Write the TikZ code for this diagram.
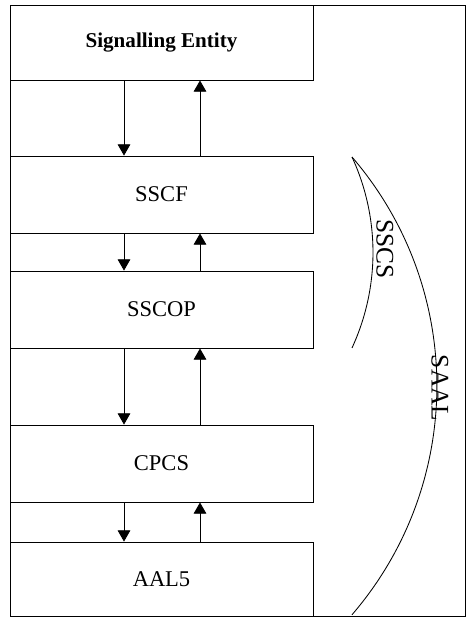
\documentclass[tikz,border=0pt]{standalone}
\usepackage{fontspec}
\setmainfont{Liberation Serif}
\usetikzlibrary{arrows.meta}
\usetikzlibrary{positioning}

\begin{document}
\begin{tikzpicture}[x=0.025cm, y=-0.025cm, line width=0.6pt,
    layer/.style={draw, rectangle, inner sep=0pt, minimum width=7.575cm,
      minimum height=1.925cm, font=\fontsize{16}{19}\selectfont},
    flow/.style={-{Triangle[width=9pt,length=8pt]}},
    lbl/.style={rotate=-90, inner sep=0pt, font=\fontsize{18}{21}\selectfont}]

    \useasboundingbox (0,0) rectangle (470,620);
    \draw (10,5) rectangle (465,616);

    \node[layer, minimum height=1.875cm, font=\fontsize{15}{18}\selectfont\bfseries] (se) at (161.5,42.5) {Signalling Entity};
    \node[layer] (sscf) at (161.5,194.5) {SSCF};
    \node[layer] (sscop) at (161.5,309.5) {SSCOP};
    \node[layer] (cpcs) at (161.5,463.5) {CPCS};
    \node[layer, minimum height=1.85cm] (aal) at (161.5,579) {AAL5};

    \coordinate (dn) at (124,0);
    \coordinate (up) at (200,0);
    \foreach \a/\b in {se/sscf, sscf/sscop, sscop/cpcs, cpcs/aal} {
        \draw[flow] (\a.south -| dn) -- (\b.north -| dn);
        \draw[flow] (\b.north -| up) -- (\a.south -| up);
    }

    % the two braces on the right
    \draw (352,157) arc[start angle=-40.7, end angle=40.7, radius=351];
    \draw (352,157) arc[start angle=-24.8, end angle=24.8, radius=227.6];

    \node[lbl] (sscs) at (385,249) {SSCS};
    \node[lbl] (saal) at (440,388) {SAAL};

\end{tikzpicture}
\end{document}
